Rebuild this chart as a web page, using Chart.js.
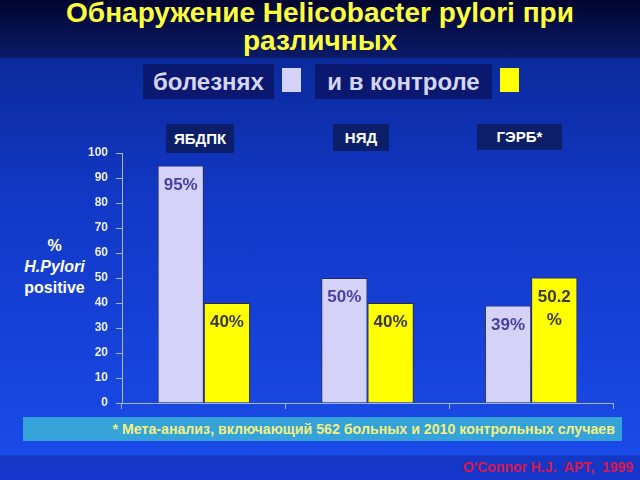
<!DOCTYPE html>
<html>
<head>
<meta charset="utf-8">
<script src="https://cdn.jsdelivr.net/npm/chart.js@4/dist/chart.umd.min.js"></script>
<style>
  html, body { margin: 0; padding: 0; }
  body {
    width: 640px; height: 480px; position: relative; overflow: hidden;
    font-family: "Liberation Sans", Arial, sans-serif;
    background: linear-gradient(#0b2a9c 58px, #1238c6 200px, #1a4ae8 455px, #1437c4 456px, #1636cc 480px);
  }
  #topband {
    position: absolute; left: 0; top: 0; width: 640px; height: 58px;
    background: linear-gradient(#01062f, #0a1a68);
  }
  #title {
    position: absolute; left: 0; top: -1px; width: 640px; text-align: center;
    color: #ffff3c; font-weight: bold; font-size: 28px; line-height: 28px;
  }
  .box {
    position: absolute; background: #0a1870; color: #d6d6f4;
    font-weight: bold; text-align: center; white-space: nowrap;
  }
  .swatch { position: absolute; }
  .cat {
    position: absolute; background: #0b1e6a; color: #ffffff;
    font-weight: bold; font-size: 15px; text-align: center;
    box-sizing: border-box;
  }
  #ytitle {
    position: absolute; left: 7px; top: 235px; width: 95px; text-align: center;
    color: #ffffff; font-weight: bold; font-size: 16px; line-height: 21px;
  }
  #note {
    position: absolute; left: 23px; top: 417px; width: 599px; height: 24px;
    background: #35a2da; color: #f2f080; font-weight: bold; font-size: 14.2px;
    line-height: 24px; text-align: right; box-sizing: border-box; padding-right: 7px;
    white-space: nowrap;
  }
  #credit {
    position: absolute; left: 463px; top: 459px; color: #d8184e;
    font-weight: bold; font-size: 14px; white-space: pre;
  }
  canvas { position: absolute; left: 0; top: 0; }
</style>
</head>
<body>
<div id="topband"></div>
<div id="title">Обнаружение Helicobacter pylori при<br>различных</div>

<div class="box" style="left:143px;top:64px;width:131px;height:35px;line-height:35px;font-size:24px;">болезнях</div>
<div class="swatch" style="left:282px;top:68px;width:19px;height:24px;background:#d4d2f6;"></div>
<div class="box" style="left:315px;top:64px;width:177px;height:35px;line-height:35px;font-size:24px;">и в контроле</div>
<div class="swatch" style="left:500px;top:68px;width:19px;height:24px;background:#ffff00;"></div>

<div id="cats"></div>
<div id="ytitle">%<br><i>H.Pylori</i><br>positive</div>
<div id="note">* Мета-анализ, включающий 562 больных и 2010 контрольных случаев</div>
<div id="credit">O'Connor H.J.  APT,  1999</div>

<canvas id="chart" width="640" height="480"></canvas>

<script>
// ------------------------------------------------------------
// DATA
// ------------------------------------------------------------
const categories = ["ЯБДПК", "НЯД", "ГЭРБ*"];
const diseaseValues = [95, 50, 39];
const controlValues = [40, 40, 50.2];
const seriesNames = ["болезнях", "и в контроле"];
const yTicks = [0, 10, 20, 30, 40, 50, 60, 70, 80, 90, 100];

// header boxes above the categories (layout only)
const catBoxes = [
  { left: 166, top: 124, width: 68, height: 29 },
  { left: 333, top: 124, width: 56, height: 27 },
  { left: 477, top: 124, width: 85, height: 26 }
];

const cats = document.getElementById("cats");
categories.forEach((c, i) => {
  const b = catBoxes[i];
  const d = document.createElement("div");
  d.className = "cat";
  d.textContent = c;
  d.style.cssText = `left:${b.left}px;top:${b.top}px;width:${b.width}px;height:${b.height}px;line-height:${b.height}px;`;
  cats.appendChild(d);
});

// ------------------------------------------------------------
// value labels inside the bars
// ------------------------------------------------------------
const labelColors = ["#4a3ea6", "#383838"];

const valueLabels = {
  id: "valueLabels",
  afterDatasetsDraw(chart) {
    const ctx = chart.ctx;
    ctx.save();
    ctx.font = "bold 17px 'Liberation Sans', Arial, sans-serif";
    ctx.textAlign = "center";
    ctx.textBaseline = "top";
    chart.data.datasets.forEach((ds, di) => {
      ctx.fillStyle = labelColors[di];
      chart.getDatasetMeta(di).data.forEach((bar, i) => {
        const num = String(ds.data[i]);
        const full = num + "%";
        const lines = ctx.measureText(full).width > bar.width - 6 ? [num, "%"] : [full];
        lines.forEach((t, li) => ctx.fillText(t, bar.x, bar.y + 11 + li * 23));
      });
    });
    ctx.restore();
  }
};

const axisColor = "#a9b6e6";

new Chart(document.getElementById("chart"), {
  type: "bar",
  data: {
    labels: categories,
    datasets: [
      {
        label: seriesNames[0],
        data: diseaseValues,
        backgroundColor: "#d4d2f6",
        borderColor: "#2c2c5a",
        borderWidth: 1,
        categoryPercentage: 0.565,
        barPercentage: 1
      },
      {
        label: seriesNames[1],
        data: controlValues,
        backgroundColor: "#ffff00",
        borderColor: "#2c2c3a",
        borderWidth: 1,
        categoryPercentage: 0.565,
        barPercentage: 1
      }
    ]
  },
  options: {
    responsive: false,
    animation: false,
    layout: { padding: { left: 0, top: 153, right: 27, bottom: 71 } },
    plugins: { legend: { display: false }, tooltip: { enabled: false } },
    scales: {
      x: {
        ticks: { display: false },
        grid: { offset: true, drawOnChartArea: false, tickLength: 6, color: axisColor },
        border: { color: axisColor },
        afterFit: s => { s.height = 6; }
      },
      y: {
        min: 0,
        max: 100,
        afterBuildTicks: s => { s.ticks = yTicks.map(v => ({ value: v })); },
        ticks: {
          color: "#eef0ff",
          padding: 8,
          font: { family: "'Liberation Sans', Arial, sans-serif", size: 12, weight: "bold" }
        },
        grid: { drawOnChartArea: false, tickLength: 6, color: axisColor },
        border: { color: axisColor },
        afterFit: s => { s.width = 122; }
      }
    }
  },
  plugins: [valueLabels]
});
</script>
</body>
</html>
